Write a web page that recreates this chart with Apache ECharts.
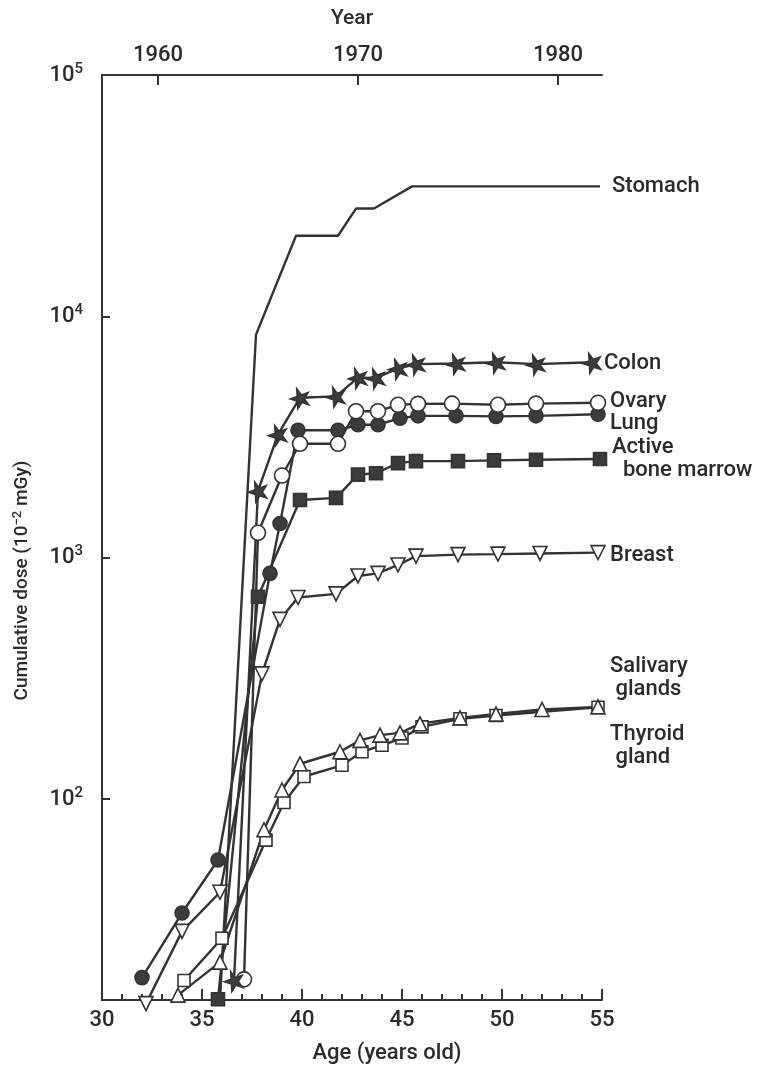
<!DOCTYPE html>
<html>
<head>
<meta charset="utf-8">
<script src="https://cdn.jsdelivr.net/npm/echarts@6/dist/echarts.min.js"></script>
<style>
  html, body { margin: 0; padding: 0; background: #fff; }
  #chart { width: 774px; height: 1069px; }
</style>
</head>
<body>
<div id="chart"></div>
<script>
// ages (years old) and cumulative dose (10^-2 mGy)
var stomachAge = [35.9, 37.7, 39.7, 41.8, 42.7, 43.6, 45.5, 54.9];
var stomachDose = [14.7, 8400, 21570, 21570, 27970, 27970, 34550, 34550];

var colonAge = [36.6, 37.8, 38.8, 39.9, 41.7, 42.8, 43.7, 44.8, 45.7, 47.7, 49.7, 51.7, 54.5];
var colonDose = [17.7, 1890, 3240, 4600, 4660, 5570, 5560, 6080, 6340, 6380, 6450, 6340, 6450];

var ovaryAge = [37.1, 37.8, 39.0, 39.9, 41.8, 42.7, 43.8, 44.8, 45.8, 47.5, 49.8, 51.7, 54.8];
var ovaryDose = [17.9, 1268, 2190, 2965, 2965, 4045, 4045, 4300, 4340, 4350, 4300, 4350, 4385];

var lungAge = [32.0, 34.0, 35.8, 38.4, 38.9, 39.8, 41.8, 42.8, 43.8, 44.9, 45.8, 47.7, 49.7, 51.7, 54.8];
var lungDose = [18.2, 33.7, 55.9, 861, 1385, 3373, 3373, 3555, 3555, 3785, 3870, 3870, 3850, 3870, 3928];

var marrowAge = [35.8, 37.8, 39.9, 41.7, 42.8, 43.7, 44.8, 45.7, 47.8, 49.6, 51.7, 54.9];
var marrowDose = [14.8, 689, 1734, 1770, 2208, 2238, 2466, 2512, 2512, 2530, 2547, 2564];

var breastAge = [32.2, 34.0, 35.9, 38.0, 38.9, 39.8, 41.7, 42.8, 43.8, 44.8, 45.7, 47.8, 49.8, 51.9, 54.8];
var breastDose = [14.2, 28.3, 41.1, 330, 555, 684, 708, 840, 861, 933, 1015, 1030, 1035, 1041, 1050];

var salivaryAge = [33.8, 35.9, 38.1, 39.0, 39.9, 41.9, 42.9, 43.9, 44.9, 45.9, 47.9, 49.7, 52.0, 54.8];
var salivaryDose = [15.4, 21.1, 74.6, 109, 140, 157, 175, 184, 188, 205, 217, 225, 235, 241];

var thyroidAge = [34.1, 36.0, 38.2, 39.1, 40.1, 42.0, 43.0, 44.0, 45.0, 46.0, 47.9, 49.7, 54.8];
var thyroidDose = [17.7, 26.5, 67.6, 96.7, 124, 138, 157, 167, 179, 199, 215, 222, 240];

var doseTicks = [100, 1000, 10000, 100000];
var yearTicks = [1960, 1970, 1980];

var ink = '#333';
var textInk = '#2b2b2b';
var font = 'Roboto, Liberation Sans, Arial, sans-serif';
var weight = 500;
var starPath = 'path://M50,0 L61,35 L98,35 L68,57 L79,91 L50,70 L21,91 L32,57 L2,35 L39,35 Z';

function pairs(xs, ys) {
  var out = [];
  for (var i = 0; i < xs.length; i++) out.push([xs[i], ys[i]]);
  return out;
}

function organ(name, label, xs, ys, symbol, size, fill, dy, rotate, gap) {
  return {
    name: name,
    type: 'line',
    data: pairs(xs, ys),
    symbol: symbol || 'none',
    showSymbol: !!symbol,
    symbolSize: size,
    symbolRotate: rotate || 0,
    clip: false,
    animation: false,
    lineStyle: { color: ink, width: 2.4 },
    itemStyle: { color: fill, borderColor: ink, borderWidth: 1.6, opacity: 1 },
    endLabel: {
      show: true,
      formatter: label,
      distance: gap || 12,
      offset: [0, dy],
      color: textInk,
      fontFamily: font,
      fontWeight: weight,
      fontSize: 22,
      lineHeight: 23,
      align: 'left'
    }
  };
}

var chart = echarts.init(document.getElementById('chart'), null, { renderer: 'canvas' });

var option = {
  backgroundColor: '#fff',
  animation: false,
  grid: { left: 102, right: 172, top: 75, bottom: 66 },
  xAxis: [{
    type: 'value',
    position: 'bottom',
    min: 30,
    max: 55,
    interval: 5,
    name: 'Age (years old)',
    nameLocation: 'middle',
    nameGap: 42,
    nameTextStyle: { fontFamily: font, fontWeight: weight, fontSize: 22, color: textInk, padding: [0, 0, 0, 70] },
    axisLine: { lineStyle: { color: ink, width: 2 } },
    axisTick: { inside: true, length: 11, lineStyle: { color: ink, width: 2 } },
    minorTick: { show: true, splitNumber: 5, length: 6, lineStyle: { color: ink, width: 2 } },
    axisLabel: { fontFamily: font, fontWeight: weight, fontSize: 22, color: textInk, margin: 9 },
    splitLine: { show: false }
  }, {
    type: 'value',
    position: 'top',
    min: 1957.2,
    max: 1982.2,
    name: 'Year',
    nameLocation: 'middle',
    nameGap: 46,
    nameTextStyle: { fontFamily: font, fontWeight: weight, fontSize: 21, color: textInk },
    axisLine: { lineStyle: { color: ink, width: 2 } },
    axisTick: { inside: true, length: 10, customValues: yearTicks, lineStyle: { color: ink, width: 2 } },
    axisLabel: {
      customValues: yearTicks,
      formatter: function (v) { return String(Math.round(v)); },
      fontFamily: font, fontWeight: weight, fontSize: 22, color: textInk, margin: 9
    },
    splitLine: { show: false }
  }],
  yAxis: {
    type: 'log',
    logBase: 10,
    min: 14.7,
    max: 100000,
    name: '{n|Cumulative dose (10}{s|−2}{n| mGy)}',
    nameLocation: 'middle',
    nameRotate: 90,
    nameGap: 68,
    nameTextStyle: {
      padding: [0, 86, 0, 0],
      rich: {
        n: { fontFamily: font, fontWeight: weight, fontSize: 19, color: textInk },
        s: { fontFamily: font, fontWeight: weight, fontSize: 13, color: textInk, padding: [0, 0, 10, 0] }
      }
    },
    axisLine: { lineStyle: { color: ink, width: 2 } },
    axisTick: { inside: true, length: 8, customValues: doseTicks, lineStyle: { color: ink, width: 2 } },
    axisLabel: {
      customValues: doseTicks,
      margin: 19,
      formatter: function (v) {
        return '{n|10}{s|' + Math.round(Math.log10(v)) + '}';
      },
      rich: {
        n: { fontFamily: font, fontWeight: weight, fontSize: 22, color: textInk },
        s: { fontFamily: font, fontWeight: weight, fontSize: 15, color: textInk, padding: [0, 0, 12, 0] }
      }
    },
    splitLine: { show: false }
  },
  series: [
    organ('Stomach', 'Stomach', stomachAge, stomachDose, null, 0, ink, 0),
    organ('Thyroid gland', 'Thyroid\n gland', thyroidAge, thyroidDose, 'rect', 12, '#fff', 39),
    organ('Salivary glands', 'Salivary\n glands', salivaryAge, salivaryDose, 'triangle', 14, '#fff', -29),
    organ('Breast', 'Breast', breastAge, breastDose, 'triangle', 14, '#fff', 3, 180),
    organ('Active bone marrow', 'Active\n  bone marrow', marrowAge, marrowDose, 'rect', 13, '#3c3c3c', 0),
    organ('Lung', 'Lung', lungAge, lungDose, 'circle', 14, '#3c3c3c', 9),
    organ('Ovary', 'Ovary', ovaryAge, ovaryDose, 'circle', 15, '#fff', -1),
    organ('Colon', 'Colon', colonAge, colonDose, starPath, 19, '#3c3c3c', 1, 20)
  ]
};

chart.setOption(option);
</script>
</body>
</html>
